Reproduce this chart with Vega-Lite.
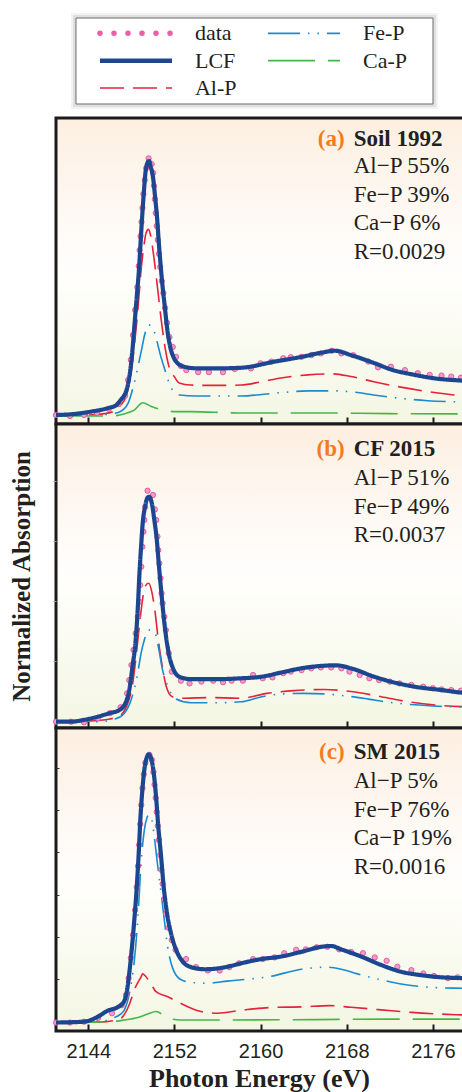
{
"$schema":"https://vega.github.io/schema/vega-lite/v6.json",
"padding":{"left":7,"top":13,"right":0,"bottom":5},
"bounds":"flush",
"spacing":0,
"config":{
 "font":"Liberation Serif",
 "view":{"stroke":"#1b1b1b","strokeWidth":3},
 "axis":{"grid":false,"domain":false}
},
"datasets":{"curves":[
{"p":"a","s":"LCF","e":2141.0,"v":0.00},{"p":"a","s":"LCF","e":2142.7,"v":0.03},{"p":"a","s":"LCF","e":2144.25,"v":0.10},{"p":"a","s":"LCF","e":2145.8,"v":0.20},{"p":"a","s":"LCF","e":2146.6,"v":0.29},{"p":"a","s":"LCF","e":2147.0,"v":0.44},{"p":"a","s":"LCF","e":2147.5,"v":0.69},{"p":"a","s":"LCF","e":2147.7,"v":0.93},{"p":"a","s":"LCF","e":2147.9,"v":1.32},{"p":"a","s":"LCF","e":2148.1,"v":1.91},{"p":"a","s":"LCF","e":2148.3,"v":2.70},{"p":"a","s":"LCF","e":2148.5,"v":3.48},{"p":"a","s":"LCF","e":2148.7,"v":4.26},{"p":"a","s":"LCF","e":2148.85,"v":5.05},{"p":"a","s":"LCF","e":2149.0,"v":5.83},{"p":"a","s":"LCF","e":2149.15,"v":6.52},{"p":"a","s":"LCF","e":2149.3,"v":7.11},{"p":"a","s":"LCF","e":2149.5,"v":7.42},{"p":"a","s":"LCF","e":2149.65,"v":7.47},{"p":"a","s":"LCF","e":2149.8,"v":7.30},{"p":"a","s":"LCF","e":2150.0,"v":7.01},{"p":"a","s":"LCF","e":2150.2,"v":6.42},{"p":"a","s":"LCF","e":2150.4,"v":5.74},{"p":"a","s":"LCF","e":2150.55,"v":5.05},{"p":"a","s":"LCF","e":2150.7,"v":4.46},{"p":"a","s":"LCF","e":2150.9,"v":3.77},{"p":"a","s":"LCF","e":2151.1,"v":3.19},{"p":"a","s":"LCF","e":2151.3,"v":2.60},{"p":"a","s":"LCF","e":2151.6,"v":2.01},{"p":"a","s":"LCF","e":2151.9,"v":1.71},{"p":"a","s":"LCF","e":2152.3,"v":1.52},{"p":"a","s":"LCF","e":2152.9,"v":1.42},{"p":"a","s":"LCF","e":2154.2,"v":1.37},{"p":"a","s":"LCF","e":2155.7,"v":1.37},{"p":"a","s":"LCF","e":2158.2,"v":1.39},{"p":"a","s":"LCF","e":2161.3,"v":1.57},{"p":"a","s":"LCF","e":2163.8,"v":1.71},{"p":"a","s":"LCF","e":2165.6,"v":1.83},{"p":"a","s":"LCF","e":2166.9,"v":1.89},{"p":"a","s":"LCF","e":2168.4,"v":1.76},{"p":"a","s":"LCF","e":2170.6,"v":1.52},{"p":"a","s":"LCF","e":2172.1,"v":1.34},{"p":"a","s":"LCF","e":2174.3,"v":1.18},{"p":"a","s":"LCF","e":2176.1,"v":1.08},{"p":"a","s":"LCF","e":2178.8,"v":1.01},{"p":"a","s":"LCF","e":2180.0,"v":0.99},
{"p":"a","s":"data","e":2141.0,"v":0.00},{"p":"a","s":"data","e":2142.3,"v":-0.03},{"p":"a","s":"data","e":2143.6,"v":0.00},{"p":"a","s":"data","e":2144.8,"v":0.06},{"p":"a","s":"data","e":2145.9,"v":0.18},{"p":"a","s":"data","e":2146.8,"v":0.32},{"p":"a","s":"data","e":2147.4,"v":0.56},{"p":"a","s":"data","e":2147.7,"v":1.03},{"p":"a","s":"data","e":2147.95,"v":1.62},{"p":"a","s":"data","e":2148.15,"v":2.35},{"p":"a","s":"data","e":2148.35,"v":3.09},{"p":"a","s":"data","e":2148.55,"v":3.76},{"p":"a","s":"data","e":2148.68,"v":4.38},{"p":"a","s":"data","e":2148.76,"v":4.85},{"p":"a","s":"data","e":2148.85,"v":5.26},{"p":"a","s":"data","e":2148.94,"v":5.68},{"p":"a","s":"data","e":2149.03,"v":6.09},{"p":"a","s":"data","e":2149.12,"v":6.50},{"p":"a","s":"data","e":2149.24,"v":6.91},{"p":"a","s":"data","e":2149.38,"v":7.26},{"p":"a","s":"data","e":2149.6,"v":7.55},{"p":"a","s":"data","e":2149.88,"v":7.38},{"p":"a","s":"data","e":2150.02,"v":7.12},{"p":"a","s":"data","e":2150.1,"v":6.74},{"p":"a","s":"data","e":2150.18,"v":6.35},{"p":"a","s":"data","e":2150.26,"v":5.94},{"p":"a","s":"data","e":2150.35,"v":5.56},{"p":"a","s":"data","e":2150.45,"v":5.15},{"p":"a","s":"data","e":2150.56,"v":4.74},{"p":"a","s":"data","e":2150.68,"v":4.35},{"p":"a","s":"data","e":2150.82,"v":3.94},{"p":"a","s":"data","e":2150.97,"v":3.59},{"p":"a","s":"data","e":2151.13,"v":3.15},{"p":"a","s":"data","e":2151.31,"v":2.71},{"p":"a","s":"data","e":2151.53,"v":2.29},{"p":"a","s":"data","e":2151.84,"v":2.00},{"p":"a","s":"data","e":2152.15,"v":1.71},{"p":"a","s":"data","e":2152.6,"v":1.44},{"p":"a","s":"data","e":2153.1,"v":1.32},{"p":"a","s":"data","e":2154.2,"v":1.26},{"p":"a","s":"data","e":2155.2,"v":1.26},{"p":"a","s":"data","e":2156.5,"v":1.26},{"p":"a","s":"data","e":2157.6,"v":1.35},{"p":"a","s":"data","e":2159.1,"v":1.37},{"p":"a","s":"data","e":2160.0,"v":1.52},{"p":"a","s":"data","e":2161.0,"v":1.57},{"p":"a","s":"data","e":2162.1,"v":1.67},{"p":"a","s":"data","e":2162.8,"v":1.70},{"p":"a","s":"data","e":2163.8,"v":1.71},{"p":"a","s":"data","e":2164.7,"v":1.76},{"p":"a","s":"data","e":2165.6,"v":1.81},{"p":"a","s":"data","e":2166.6,"v":1.89},{"p":"a","s":"data","e":2167.5,"v":1.81},{"p":"a","s":"data","e":2168.6,"v":1.76},{"p":"a","s":"data","e":2170.0,"v":1.57},{"p":"a","s":"data","e":2170.9,"v":1.40},{"p":"a","s":"data","e":2172.1,"v":1.42},{"p":"a","s":"data","e":2173.4,"v":1.32},{"p":"a","s":"data","e":2174.6,"v":1.23},{"p":"a","s":"data","e":2175.7,"v":1.18},{"p":"a","s":"data","e":2176.8,"v":1.16},{"p":"a","s":"data","e":2177.7,"v":1.13},{"p":"a","s":"data","e":2178.6,"v":1.10},{"p":"a","s":"data","e":2179.6,"v":1.07},
{"p":"a","s":"Al-P","e":2141.0,"v":-0.01},{"p":"a","s":"Al-P","e":2144.0,"v":0.00},{"p":"a","s":"Al-P","e":2145.5,"v":0.04},{"p":"a","s":"Al-P","e":2146.3,"v":0.10},{"p":"a","s":"Al-P","e":2147.0,"v":0.29},{"p":"a","s":"Al-P","e":2147.5,"v":0.54},{"p":"a","s":"Al-P","e":2147.97,"v":1.24},{"p":"a","s":"Al-P","e":2148.3,"v":2.12},{"p":"a","s":"Al-P","e":2148.6,"v":3.09},{"p":"a","s":"Al-P","e":2148.9,"v":4.26},{"p":"a","s":"Al-P","e":2149.2,"v":5.06},{"p":"a","s":"Al-P","e":2149.36,"v":5.35},{"p":"a","s":"Al-P","e":2149.58,"v":5.46},{"p":"a","s":"Al-P","e":2149.8,"v":5.26},{"p":"a","s":"Al-P","e":2150.0,"v":4.85},{"p":"a","s":"Al-P","e":2150.45,"v":3.68},{"p":"a","s":"Al-P","e":2150.75,"v":2.85},{"p":"a","s":"Al-P","e":2151.06,"v":2.12},{"p":"a","s":"Al-P","e":2151.5,"v":1.41},{"p":"a","s":"Al-P","e":2152.0,"v":1.12},{"p":"a","s":"Al-P","e":2152.45,"v":0.94},{"p":"a","s":"Al-P","e":2153.5,"v":0.88},{"p":"a","s":"Al-P","e":2155.5,"v":0.87},{"p":"a","s":"Al-P","e":2158.2,"v":0.88},{"p":"a","s":"Al-P","e":2160.1,"v":0.98},{"p":"a","s":"Al-P","e":2161.9,"v":1.09},{"p":"a","s":"Al-P","e":2164.4,"v":1.18},{"p":"a","s":"Al-P","e":2166.6,"v":1.21},{"p":"a","s":"Al-P","e":2168.4,"v":1.13},{"p":"a","s":"Al-P","e":2170.5,"v":0.98},{"p":"a","s":"Al-P","e":2173.0,"v":0.82},{"p":"a","s":"Al-P","e":2175.5,"v":0.69},{"p":"a","s":"Al-P","e":2178.0,"v":0.59},{"p":"a","s":"Al-P","e":2180.0,"v":0.56},
{"p":"a","s":"Fe-P","e":2141.0,"v":-0.01},{"p":"a","s":"Fe-P","e":2145.0,"v":0.00},{"p":"a","s":"Fe-P","e":2146.0,"v":0.03},{"p":"a","s":"Fe-P","e":2146.9,"v":0.09},{"p":"a","s":"Fe-P","e":2147.7,"v":0.35},{"p":"a","s":"Fe-P","e":2148.1,"v":0.74},{"p":"a","s":"Fe-P","e":2148.4,"v":1.12},{"p":"a","s":"Fe-P","e":2148.9,"v":1.85},{"p":"a","s":"Fe-P","e":2149.3,"v":2.44},{"p":"a","s":"Fe-P","e":2149.6,"v":2.65},{"p":"a","s":"Fe-P","e":2150.0,"v":2.56},{"p":"a","s":"Fe-P","e":2150.3,"v":2.26},{"p":"a","s":"Fe-P","e":2150.7,"v":1.76},{"p":"a","s":"Fe-P","e":2151.2,"v":1.24},{"p":"a","s":"Fe-P","e":2151.7,"v":0.79},{"p":"a","s":"Fe-P","e":2152.5,"v":0.59},{"p":"a","s":"Fe-P","e":2154.0,"v":0.56},{"p":"a","s":"Fe-P","e":2158.2,"v":0.56},{"p":"a","s":"Fe-P","e":2161.9,"v":0.66},{"p":"a","s":"Fe-P","e":2164.4,"v":0.71},{"p":"a","s":"Fe-P","e":2166.8,"v":0.71},{"p":"a","s":"Fe-P","e":2169.0,"v":0.66},{"p":"a","s":"Fe-P","e":2170.5,"v":0.59},{"p":"a","s":"Fe-P","e":2173.0,"v":0.49},{"p":"a","s":"Fe-P","e":2175.5,"v":0.42},{"p":"a","s":"Fe-P","e":2178.0,"v":0.39},{"p":"a","s":"Fe-P","e":2180.0,"v":0.38},
{"p":"a","s":"Ca-P","e":2141.0,"v":-0.03},{"p":"a","s":"Ca-P","e":2146.0,"v":-0.03},{"p":"a","s":"Ca-P","e":2147.3,"v":0.03},{"p":"a","s":"Ca-P","e":2148.3,"v":0.15},{"p":"a","s":"Ca-P","e":2149.05,"v":0.36},{"p":"a","s":"Ca-P","e":2149.8,"v":0.26},{"p":"a","s":"Ca-P","e":2150.9,"v":0.15},{"p":"a","s":"Ca-P","e":2152.0,"v":0.10},{"p":"a","s":"Ca-P","e":2153.5,"v":0.10},{"p":"a","s":"Ca-P","e":2158.0,"v":0.06},{"p":"a","s":"Ca-P","e":2165.0,"v":0.06},{"p":"a","s":"Ca-P","e":2172.0,"v":0.04},{"p":"a","s":"Ca-P","e":2180.0,"v":0.03},
{"p":"b","s":"LCF","e":2141.0,"v":0.00},{"p":"b","s":"LCF","e":2142.4,"v":0.00},{"p":"b","s":"LCF","e":2143.6,"v":0.06},{"p":"b","s":"LCF","e":2144.9,"v":0.17},{"p":"b","s":"LCF","e":2145.95,"v":0.28},{"p":"b","s":"LCF","e":2146.9,"v":0.39},{"p":"b","s":"LCF","e":2147.5,"v":0.66},{"p":"b","s":"LCF","e":2147.8,"v":1.05},{"p":"b","s":"LCF","e":2148.1,"v":1.82},{"p":"b","s":"LCF","e":2148.4,"v":2.71},{"p":"b","s":"LCF","e":2148.6,"v":3.81},{"p":"b","s":"LCF","e":2148.75,"v":4.92},{"p":"b","s":"LCF","e":2148.9,"v":5.80},{"p":"b","s":"LCF","e":2149.05,"v":6.58},{"p":"b","s":"LCF","e":2149.27,"v":7.13},{"p":"b","s":"LCF","e":2149.52,"v":7.44},{"p":"b","s":"LCF","e":2149.67,"v":7.46},{"p":"b","s":"LCF","e":2149.9,"v":7.24},{"p":"b","s":"LCF","e":2150.13,"v":6.69},{"p":"b","s":"LCF","e":2150.36,"v":6.03},{"p":"b","s":"LCF","e":2150.54,"v":5.25},{"p":"b","s":"LCF","e":2150.76,"v":4.37},{"p":"b","s":"LCF","e":2151.0,"v":3.48},{"p":"b","s":"LCF","e":2151.22,"v":2.82},{"p":"b","s":"LCF","e":2151.53,"v":2.16},{"p":"b","s":"LCF","e":2151.94,"v":1.71},{"p":"b","s":"LCF","e":2152.46,"v":1.49},{"p":"b","s":"LCF","e":2153.54,"v":1.41},{"p":"b","s":"LCF","e":2155.7,"v":1.41},{"p":"b","s":"LCF","e":2158.19,"v":1.44},{"p":"b","s":"LCF","e":2160.05,"v":1.49},{"p":"b","s":"LCF","e":2161.9,"v":1.63},{"p":"b","s":"LCF","e":2163.76,"v":1.77},{"p":"b","s":"LCF","e":2165.62,"v":1.85},{"p":"b","s":"LCF","e":2167.0,"v":1.87},{"p":"b","s":"LCF","e":2168.4,"v":1.77},{"p":"b","s":"LCF","e":2170.57,"v":1.49},{"p":"b","s":"LCF","e":2172.1,"v":1.33},{"p":"b","s":"LCF","e":2174.3,"v":1.16},{"p":"b","s":"LCF","e":2176.8,"v":1.05},{"p":"b","s":"LCF","e":2178.8,"v":0.96},{"p":"b","s":"LCF","e":2180.0,"v":0.94},
{"p":"b","s":"data","e":2141.0,"v":0.00},{"p":"b","s":"data","e":2142.4,"v":0.00},{"p":"b","s":"data","e":2143.6,"v":-0.02},{"p":"b","s":"data","e":2144.9,"v":0.11},{"p":"b","s":"data","e":2146.0,"v":0.28},{"p":"b","s":"data","e":2147.0,"v":0.48},{"p":"b","s":"data","e":2147.6,"v":0.94},{"p":"b","s":"data","e":2147.8,"v":1.38},{"p":"b","s":"data","e":2148.0,"v":1.88},{"p":"b","s":"data","e":2148.2,"v":2.38},{"p":"b","s":"data","e":2148.4,"v":2.93},{"p":"b","s":"data","e":2148.6,"v":3.48},{"p":"b","s":"data","e":2148.72,"v":3.98},{"p":"b","s":"data","e":2148.82,"v":4.53},{"p":"b","s":"data","e":2148.92,"v":5.14},{"p":"b","s":"data","e":2149.02,"v":5.80},{"p":"b","s":"data","e":2149.12,"v":6.30},{"p":"b","s":"data","e":2149.2,"v":6.69},{"p":"b","s":"data","e":2149.28,"v":7.12},{"p":"b","s":"data","e":2149.5,"v":7.66},{"p":"b","s":"data","e":2150.0,"v":7.52},{"p":"b","s":"data","e":2150.18,"v":7.04},{"p":"b","s":"data","e":2150.3,"v":6.69},{"p":"b","s":"data","e":2150.42,"v":6.14},{"p":"b","s":"data","e":2150.5,"v":5.69},{"p":"b","s":"data","e":2150.6,"v":5.25},{"p":"b","s":"data","e":2150.7,"v":4.76},{"p":"b","s":"data","e":2150.8,"v":4.26},{"p":"b","s":"data","e":2150.9,"v":3.93},{"p":"b","s":"data","e":2151.06,"v":3.48},{"p":"b","s":"data","e":2151.2,"v":3.04},{"p":"b","s":"data","e":2151.47,"v":2.27},{"p":"b","s":"data","e":2151.75,"v":1.66},{"p":"b","s":"data","e":2152.6,"v":1.36},{"p":"b","s":"data","e":2153.4,"v":1.27},{"p":"b","s":"data","e":2154.5,"v":1.33},{"p":"b","s":"data","e":2155.6,"v":1.36},{"p":"b","s":"data","e":2156.5,"v":1.31},{"p":"b","s":"data","e":2157.3,"v":1.36},{"p":"b","s":"data","e":2158.35,"v":1.36},{"p":"b","s":"data","e":2159.3,"v":1.55},{"p":"b","s":"data","e":2160.2,"v":1.44},{"p":"b","s":"data","e":2161.1,"v":1.47},{"p":"b","s":"data","e":2162.1,"v":1.61},{"p":"b","s":"data","e":2162.8,"v":1.66},{"p":"b","s":"data","e":2163.8,"v":1.71},{"p":"b","s":"data","e":2164.7,"v":1.77},{"p":"b","s":"data","e":2165.6,"v":1.80},{"p":"b","s":"data","e":2166.55,"v":1.80},{"p":"b","s":"data","e":2167.5,"v":1.77},{"p":"b","s":"data","e":2168.25,"v":1.66},{"p":"b","s":"data","e":2169.2,"v":1.55},{"p":"b","s":"data","e":2170.1,"v":1.44},{"p":"b","s":"data","e":2171.0,"v":1.38},{"p":"b","s":"data","e":2172.0,"v":1.33},{"p":"b","s":"data","e":2172.9,"v":1.27},{"p":"b","s":"data","e":2174.0,"v":1.22},{"p":"b","s":"data","e":2175.1,"v":1.16},{"p":"b","s":"data","e":2176.0,"v":1.11},{"p":"b","s":"data","e":2176.8,"v":1.07},{"p":"b","s":"data","e":2177.7,"v":1.05},{"p":"b","s":"data","e":2178.6,"v":1.03},{"p":"b","s":"data","e":2179.6,"v":1.00},
{"p":"b","s":"Al-P","e":2141.0,"v":0.00},{"p":"b","s":"Al-P","e":2144.0,"v":0.02},{"p":"b","s":"Al-P","e":2146.0,"v":0.09},{"p":"b","s":"Al-P","e":2147.0,"v":0.22},{"p":"b","s":"Al-P","e":2147.6,"v":0.55},{"p":"b","s":"Al-P","e":2148.1,"v":1.22},{"p":"b","s":"Al-P","e":2148.4,"v":2.05},{"p":"b","s":"Al-P","e":2148.75,"v":3.21},{"p":"b","s":"Al-P","e":2149.1,"v":4.20},{"p":"b","s":"Al-P","e":2149.35,"v":4.53},{"p":"b","s":"Al-P","e":2149.6,"v":4.59},{"p":"b","s":"Al-P","e":2149.9,"v":4.30},{"p":"b","s":"Al-P","e":2150.2,"v":3.64},{"p":"b","s":"Al-P","e":2150.5,"v":2.71},{"p":"b","s":"Al-P","e":2150.85,"v":1.88},{"p":"b","s":"Al-P","e":2151.2,"v":1.22},{"p":"b","s":"Al-P","e":2151.8,"v":0.83},{"p":"b","s":"Al-P","e":2152.8,"v":0.78},{"p":"b","s":"Al-P","e":2155.0,"v":0.80},{"p":"b","s":"Al-P","e":2158.2,"v":0.78},{"p":"b","s":"Al-P","e":2160.6,"v":0.94},{"p":"b","s":"Al-P","e":2163.1,"v":1.03},{"p":"b","s":"Al-P","e":2165.9,"v":1.07},{"p":"b","s":"Al-P","e":2168.4,"v":1.00},{"p":"b","s":"Al-P","e":2171.2,"v":0.83},{"p":"b","s":"Al-P","e":2173.7,"v":0.66},{"p":"b","s":"Al-P","e":2176.2,"v":0.55},{"p":"b","s":"Al-P","e":2178.8,"v":0.50},{"p":"b","s":"Al-P","e":2180.0,"v":0.49},
{"p":"b","s":"Fe-P","e":2141.0,"v":-0.01},{"p":"b","s":"Fe-P","e":2145.0,"v":0.00},{"p":"b","s":"Fe-P","e":2146.5,"v":0.09},{"p":"b","s":"Fe-P","e":2147.35,"v":0.28},{"p":"b","s":"Fe-P","e":2147.97,"v":0.72},{"p":"b","s":"Fe-P","e":2148.59,"v":1.61},{"p":"b","s":"Fe-P","e":2148.9,"v":2.27},{"p":"b","s":"Fe-P","e":2149.2,"v":2.71},{"p":"b","s":"Fe-P","e":2149.58,"v":3.04},{"p":"b","s":"Fe-P","e":2150.13,"v":2.99},{"p":"b","s":"Fe-P","e":2150.5,"v":2.49},{"p":"b","s":"Fe-P","e":2150.9,"v":1.71},{"p":"b","s":"Fe-P","e":2151.4,"v":1.16},{"p":"b","s":"Fe-P","e":2152.0,"v":0.78},{"p":"b","s":"Fe-P","e":2153.54,"v":0.63},{"p":"b","s":"Fe-P","e":2156.1,"v":0.63},{"p":"b","s":"Fe-P","e":2158.2,"v":0.66},{"p":"b","s":"Fe-P","e":2160.0,"v":0.82},{"p":"b","s":"Fe-P","e":2162.0,"v":0.92},{"p":"b","s":"Fe-P","e":2164.0,"v":0.94},{"p":"b","s":"Fe-P","e":2166.0,"v":0.92},{"p":"b","s":"Fe-P","e":2168.0,"v":0.85},{"p":"b","s":"Fe-P","e":2170.0,"v":0.75},{"p":"b","s":"Fe-P","e":2172.0,"v":0.64},{"p":"b","s":"Fe-P","e":2174.0,"v":0.57},{"p":"b","s":"Fe-P","e":2176.0,"v":0.52},{"p":"b","s":"Fe-P","e":2178.8,"v":0.49},{"p":"b","s":"Fe-P","e":2180.0,"v":0.48},
{"p":"c","s":"LCF","e":2141.0,"v":-0.02},{"p":"c","s":"LCF","e":2143.6,"v":0.00},{"p":"c","s":"LCF","e":2144.9,"v":0.12},{"p":"c","s":"LCF","e":2145.8,"v":0.26},{"p":"c","s":"LCF","e":2146.7,"v":0.34},{"p":"c","s":"LCF","e":2147.3,"v":0.47},{"p":"c","s":"LCF","e":2147.6,"v":0.75},{"p":"c","s":"LCF","e":2147.8,"v":1.14},{"p":"c","s":"LCF","e":2148.03,"v":1.70},{"p":"c","s":"LCF","e":2148.27,"v":2.40},{"p":"c","s":"LCF","e":2148.5,"v":3.19},{"p":"c","s":"LCF","e":2148.68,"v":3.98},{"p":"c","s":"LCF","e":2148.83,"v":4.77},{"p":"c","s":"LCF","e":2149.02,"v":5.48},{"p":"c","s":"LCF","e":2149.2,"v":5.95},{"p":"c","s":"LCF","e":2149.45,"v":6.26},{"p":"c","s":"LCF","e":2149.61,"v":6.32},{"p":"c","s":"LCF","e":2149.83,"v":6.23},{"p":"c","s":"LCF","e":2150.08,"v":5.87},{"p":"c","s":"LCF","e":2150.29,"v":5.32},{"p":"c","s":"LCF","e":2150.5,"v":4.61},{"p":"c","s":"LCF","e":2150.76,"v":3.90},{"p":"c","s":"LCF","e":2151.0,"v":3.19},{"p":"c","s":"LCF","e":2151.31,"v":2.56},{"p":"c","s":"LCF","e":2151.68,"v":2.09},{"p":"c","s":"LCF","e":2152.15,"v":1.70},{"p":"c","s":"LCF","e":2152.77,"v":1.42},{"p":"c","s":"LCF","e":2153.54,"v":1.29},{"p":"c","s":"LCF","e":2154.78,"v":1.24},{"p":"c","s":"LCF","e":2156.02,"v":1.26},{"p":"c","s":"LCF","e":2157.26,"v":1.32},{"p":"c","s":"LCF","e":2158.19,"v":1.38},{"p":"c","s":"LCF","e":2160.05,"v":1.48},{"p":"c","s":"LCF","e":2161.9,"v":1.54},{"p":"c","s":"LCF","e":2163.76,"v":1.65},{"p":"c","s":"LCF","e":2165.62,"v":1.77},{"p":"c","s":"LCF","e":2166.55,"v":1.79},{"p":"c","s":"LCF","e":2167.48,"v":1.71},{"p":"c","s":"LCF","e":2169.34,"v":1.54},{"p":"c","s":"LCF","e":2171.2,"v":1.34},{"p":"c","s":"LCF","e":2173.05,"v":1.18},{"p":"c","s":"LCF","e":2174.9,"v":1.10},{"p":"c","s":"LCF","e":2176.77,"v":1.05},{"p":"c","s":"LCF","e":2178.8,"v":1.03},{"p":"c","s":"LCF","e":2180.0,"v":1.02},
{"p":"c","s":"data","e":2141.0,"v":-0.02},{"p":"c","s":"data","e":2142.3,"v":-0.02},{"p":"c","s":"data","e":2143.6,"v":0.00},{"p":"c","s":"data","e":2144.9,"v":0.09},{"p":"c","s":"data","e":2146.2,"v":0.20},{"p":"c","s":"data","e":2147.1,"v":0.39},{"p":"c","s":"data","e":2147.5,"v":0.63},{"p":"c","s":"data","e":2147.75,"v":1.03},{"p":"c","s":"data","e":2147.95,"v":1.51},{"p":"c","s":"data","e":2148.15,"v":2.05},{"p":"c","s":"data","e":2148.35,"v":2.64},{"p":"c","s":"data","e":2148.5,"v":3.18},{"p":"c","s":"data","e":2148.62,"v":3.68},{"p":"c","s":"data","e":2148.72,"v":4.18},{"p":"c","s":"data","e":2148.82,"v":4.67},{"p":"c","s":"data","e":2148.92,"v":5.12},{"p":"c","s":"data","e":2149.03,"v":5.52},{"p":"c","s":"data","e":2149.15,"v":5.85},{"p":"c","s":"data","e":2149.3,"v":6.12},{"p":"c","s":"data","e":2149.67,"v":6.31},{"p":"c","s":"data","e":2149.9,"v":6.19},{"p":"c","s":"data","e":2150.05,"v":5.90},{"p":"c","s":"data","e":2150.15,"v":5.60},{"p":"c","s":"data","e":2150.25,"v":5.29},{"p":"c","s":"data","e":2150.35,"v":4.96},{"p":"c","s":"data","e":2150.45,"v":4.63},{"p":"c","s":"data","e":2150.55,"v":4.30},{"p":"c","s":"data","e":2150.66,"v":3.94},{"p":"c","s":"data","e":2150.78,"v":3.59},{"p":"c","s":"data","e":2150.9,"v":3.26},{"p":"c","s":"data","e":2151.05,"v":2.90},{"p":"c","s":"data","e":2151.22,"v":2.55},{"p":"c","s":"data","e":2151.45,"v":2.22},{"p":"c","s":"data","e":2151.75,"v":1.93},{"p":"c","s":"data","e":2152.1,"v":1.70},{"p":"c","s":"data","e":2153.08,"v":1.48},{"p":"c","s":"data","e":2154.0,"v":1.29},{"p":"c","s":"data","e":2155.1,"v":1.21},{"p":"c","s":"data","e":2156.2,"v":1.21},{"p":"c","s":"data","e":2157.1,"v":1.29},{"p":"c","s":"data","e":2158.0,"v":1.38},{"p":"c","s":"data","e":2159.3,"v":1.48},{"p":"c","s":"data","e":2160.2,"v":1.48},{"p":"c","s":"data","e":2161.3,"v":1.52},{"p":"c","s":"data","e":2162.2,"v":1.62},{"p":"c","s":"data","e":2163.3,"v":1.70},{"p":"c","s":"data","e":2164.2,"v":1.71},{"p":"c","s":"data","e":2165.2,"v":1.76},{"p":"c","s":"data","e":2166.2,"v":1.77},{"p":"c","s":"data","e":2167.3,"v":1.71},{"p":"c","s":"data","e":2168.4,"v":1.65},{"p":"c","s":"data","e":2169.5,"v":1.62},{"p":"c","s":"data","e":2170.6,"v":1.52},{"p":"c","s":"data","e":2171.7,"v":1.44},{"p":"c","s":"data","e":2172.7,"v":1.30},{"p":"c","s":"data","e":2174.0,"v":1.22},{"p":"c","s":"data","e":2175.1,"v":1.14},{"p":"c","s":"data","e":2176.1,"v":1.08},{"p":"c","s":"data","e":2177.4,"v":1.03},{"p":"c","s":"data","e":2178.3,"v":1.05},{"p":"c","s":"data","e":2179.3,"v":1.03},
{"p":"c","s":"Fe-P","e":2141.0,"v":-0.02},{"p":"c","s":"Fe-P","e":2145.0,"v":0.00},{"p":"c","s":"Fe-P","e":2146.3,"v":0.09},{"p":"c","s":"Fe-P","e":2147.0,"v":0.18},{"p":"c","s":"Fe-P","e":2147.35,"v":0.28},{"p":"c","s":"Fe-P","e":2147.81,"v":0.67},{"p":"c","s":"Fe-P","e":2148.28,"v":1.46},{"p":"c","s":"Fe-P","e":2148.59,"v":2.40},{"p":"c","s":"Fe-P","e":2148.9,"v":3.74},{"p":"c","s":"Fe-P","e":2149.2,"v":4.53},{"p":"c","s":"Fe-P","e":2149.45,"v":4.82},{"p":"c","s":"Fe-P","e":2149.61,"v":4.89},{"p":"c","s":"Fe-P","e":2149.85,"v":4.82},{"p":"c","s":"Fe-P","e":2150.13,"v":4.37},{"p":"c","s":"Fe-P","e":2150.38,"v":3.82},{"p":"c","s":"Fe-P","e":2150.69,"v":3.19},{"p":"c","s":"Fe-P","e":2151.06,"v":2.40},{"p":"c","s":"Fe-P","e":2151.37,"v":1.77},{"p":"c","s":"Fe-P","e":2151.84,"v":1.26},{"p":"c","s":"Fe-P","e":2152.62,"v":0.99},{"p":"c","s":"Fe-P","e":2153.85,"v":0.92},{"p":"c","s":"Fe-P","e":2155.1,"v":0.91},{"p":"c","s":"Fe-P","e":2156.9,"v":0.96},{"p":"c","s":"Fe-P","e":2158.2,"v":0.99},{"p":"c","s":"Fe-P","e":2160.7,"v":1.06},{"p":"c","s":"Fe-P","e":2163.8,"v":1.24},{"p":"c","s":"Fe-P","e":2166.2,"v":1.29},{"p":"c","s":"Fe-P","e":2167.5,"v":1.24},{"p":"c","s":"Fe-P","e":2169.0,"v":1.13},{"p":"c","s":"Fe-P","e":2171.2,"v":0.99},{"p":"c","s":"Fe-P","e":2173.05,"v":0.89},{"p":"c","s":"Fe-P","e":2174.9,"v":0.83},{"p":"c","s":"Fe-P","e":2176.8,"v":0.80},{"p":"c","s":"Fe-P","e":2178.8,"v":0.79},{"p":"c","s":"Fe-P","e":2180.0,"v":0.78},
{"p":"c","s":"Al-P","e":2141.0,"v":-0.02},{"p":"c","s":"Al-P","e":2145.0,"v":-0.01},{"p":"c","s":"Al-P","e":2146.8,"v":0.05},{"p":"c","s":"Al-P","e":2147.2,"v":0.12},{"p":"c","s":"Al-P","e":2147.8,"v":0.40},{"p":"c","s":"Al-P","e":2148.27,"v":0.75},{"p":"c","s":"Al-P","e":2148.9,"v":1.06},{"p":"c","s":"Al-P","e":2149.05,"v":1.13},{"p":"c","s":"Al-P","e":2149.3,"v":1.08},{"p":"c","s":"Al-P","e":2149.7,"v":0.94},{"p":"c","s":"Al-P","e":2150.29,"v":0.71},{"p":"c","s":"Al-P","e":2151.37,"v":0.59},{"p":"c","s":"Al-P","e":2152.61,"v":0.43},{"p":"c","s":"Al-P","e":2154.47,"v":0.24},{"p":"c","s":"Al-P","e":2156.02,"v":0.20},{"p":"c","s":"Al-P","e":2158.2,"v":0.27},{"p":"c","s":"Al-P","e":2161.3,"v":0.34},{"p":"c","s":"Al-P","e":2163.8,"v":0.35},{"p":"c","s":"Al-P","e":2166.4,"v":0.38},{"p":"c","s":"Al-P","e":2168.4,"v":0.34},{"p":"c","s":"Al-P","e":2171.2,"v":0.28},{"p":"c","s":"Al-P","e":2174.0,"v":0.22},{"p":"c","s":"Al-P","e":2176.7,"v":0.18},{"p":"c","s":"Al-P","e":2178.8,"v":0.16},{"p":"c","s":"Al-P","e":2180.0,"v":0.15},
{"p":"c","s":"Ca-P","e":2141.0,"v":-0.02},{"p":"c","s":"Ca-P","e":2146.0,"v":0.00},{"p":"c","s":"Ca-P","e":2147.35,"v":0.04},{"p":"c","s":"Ca-P","e":2148.6,"v":0.10},{"p":"c","s":"Ca-P","e":2149.52,"v":0.18},{"p":"c","s":"Ca-P","e":2150.29,"v":0.24},{"p":"c","s":"Ca-P","e":2151.37,"v":0.09},{"p":"c","s":"Ca-P","e":2152.6,"v":0.04},{"p":"c","s":"Ca-P","e":2156.0,"v":0.04},{"p":"c","s":"Ca-P","e":2165.0,"v":0.05},{"p":"c","s":"Ca-P","e":2172.0,"v":0.06},{"p":"c","s":"Ca-P","e":2180.0,"v":0.06}
],
"keys":[{"k":"data","c":0,"r":0},{"k":"LCF","c":0,"r":1},{"k":"Al-P","c":0,"r":2},{"k":"Fe-P","c":1,"r":0},{"k":"Ca-P","c":1,"r":1}]
},
"vconcat":[
{"width":420,"height":100,
 "view":{"stroke":null,"fill":null},
 "layer":[
  {"data":{"values":[{}]},"mark":{"type":"rect","fill":null,"stroke":"#000000","strokeOpacity":0.05,"strokeWidth":10},
   "encoding":{"x":{"datum":-0.357,"type":"quantitative","scale":{"domain":[-0.476,2.024],"nice":false,"zero":false},"axis":null},"x2":{"datum":1.768},"y":{"datum":-0.559,"type":"quantitative","scale":{"domain":[-0.559,3.097],"nice":false,"zero":false,"reverse":true},"axis":null},"y2":{"datum":2.585}}},
  {"data":{"values":[{}]},"mark":{"type":"rect","fill":null,"stroke":"#000000","strokeOpacity":0.08,"strokeWidth":6},
   "encoding":{"x":{"datum":-0.357,"type":"quantitative","axis":null},"x2":{"datum":1.768},"y":{"datum":-0.559,"type":"quantitative","axis":null},"y2":{"datum":2.585}}},
  {"data":{"values":[{}]},"mark":{"type":"rect","fill":"#ffffff","stroke":"#6d6d6d","strokeWidth":1},
   "encoding":{"x":{"datum":-0.357,"type":"quantitative","axis":null},"x2":{"datum":1.768},"y":{"datum":-0.559,"type":"quantitative","axis":null},"y2":{"datum":2.585}}},
  {"data":{"name":"keys"},"transform":[{"filter":"datum.k === 'data'"}],"mark":{"type":"point","shape":"M-1,0L1,0","size":5184,"filled":false,"strokeWidth":5.5,"strokeCap":"round","opacity":1},
   "encoding":{"x":{"field":"c","type":"quantitative","axis":null},"y":{"field":"r","type":"quantitative","axis":null},
    "color":{"field":"k","type":"nominal","scale":{"domain":["data","Fe-P","LCF","Ca-P","Al-P"],"range":["#ec5fa7","#1b8ad0","#1d4690","#45b649","#e4223b"]},"legend":null},
    "strokeDash":{"field":"k","type":"nominal","scale":{"domain":["data","Fe-P","LCF","Ca-P","Al-P"],"range":[[0.01,14],[32,8,1.5,8,1.5,8],[1,0],[47,13],[24,9]]},"legend":null}}},
  {"data":{"name":"keys"},"transform":[{"filter":"datum.k === 'LCF'"}],"mark":{"type":"point","shape":"M-1,0L1,0","size":5184,"filled":false,"strokeWidth":4.5,"opacity":1},
   "encoding":{"x":{"field":"c","type":"quantitative","axis":null},"y":{"field":"r","type":"quantitative","axis":null},"color":{"field":"k","type":"nominal","legend":null},"strokeDash":{"field":"k","type":"nominal","legend":null}}},
  {"data":{"name":"keys"},"transform":[{"filter":"datum.k !== 'data' && datum.k !== 'LCF'"}],"mark":{"type":"point","shape":"M-1,0L1,0","size":5184,"filled":false,"strokeWidth":1.7,"opacity":1},
   "encoding":{"x":{"field":"c","type":"quantitative","axis":null},"y":{"field":"r","type":"quantitative","axis":null},"color":{"field":"k","type":"nominal","legend":null},"strokeDash":{"field":"k","type":"nominal","legend":null}}},
  {"data":{"name":"keys"},"mark":{"type":"text","align":"left","baseline":"middle","dx":59,"font":"Liberation Serif","fontSize":22,"color":"#231f20"},
   "encoding":{"x":{"field":"c","type":"quantitative","axis":null},"y":{"field":"r","type":"quantitative","axis":null},"text":{"field":"k"}}}
 ]},
{
 "width":420,"height":306,
 "view":{"stroke":"#1b1b1b","strokeWidth":3,"fill":{"gradient":"linear","x1":0,"y1":0,"x2":0,"y2":1,"stops":[{"offset":0,"color":"#fcefe1"},{"offset":0.45,"color":"#fffdfb"},{"offset":0.55,"color":"#fefefa"},{"offset":1,"color":"#f4f6e3"}]}},
 "layer":[
  {"data":{"name":"curves"},"transform":[{"filter":"datum.p === 'a' && (datum.s === 'Al-P' || datum.s === 'Fe-P' || datum.s === 'Ca-P')"}],
   "mark":{"type":"line","strokeWidth":1.6,"interpolate":"monotone"},
   "encoding":{
    "x":{"field":"e","type":"quantitative","scale":{"domain":[2141,2180],"nice":false,"zero":false},"axis":{"values":[2144,2152,2160,2168,2176],"labels":false,"title":null,"ticks":true,"tickSize":-7,"tickWidth":2,"tickColor":"#1b1b1b"}},
    "y":{"field":"v","type":"quantitative","scale":{"domain":[-0.265,8.735],"nice":false,"zero":false},"axis":{"ticks":false,"labels":false,"title":null}},
    "color":{"field":"s","type":"nominal","legend":null},"strokeDash":{"field":"s","type":"nominal","legend":null}}},
  {"data":{"name":"curves"},"transform":[{"filter":"datum.p === 'a' && datum.s === 'data'"}],
   "mark":{"type":"circle","size":28,"fill":"#f29ac8","stroke":"#e5519d","strokeWidth":0.9,"opacity":1},
   "encoding":{"x":{"field":"e","type":"quantitative"},"y":{"field":"v","type":"quantitative"}}},
  {"data":{"name":"curves"},"transform":[{"filter":"datum.p === 'a' && datum.s === 'LCF'"}],
   "mark":{"type":"line","strokeWidth":4.2,"interpolate":"monotone"},
   "encoding":{"x":{"field":"e","type":"quantitative"},"y":{"field":"v","type":"quantitative"},"color":{"field":"s","type":"nominal","legend":null},"strokeDash":{"field":"s","type":"nominal","legend":null}}},
  {"data":{"values":[{"t":"(a)"}]},"mark":{"type":"text","align":"right","baseline":"alphabetic","font":"Liberation Serif","fontSize":23,"fontWeight":"bold","color":"#f47b20"},"encoding":{"x":{"datum":2167.8,"type":"quantitative"},"y":{"datum":7.91,"type":"quantitative"},"text":{"field":"t"}}},
  {"data":{"values":[{"t":"Soil 1992"}]},"mark":{"type":"text","align":"left","baseline":"alphabetic","font":"Liberation Serif","fontSize":23,"fontWeight":"bold","color":"#231f20"},"encoding":{"x":{"datum":2168.64,"type":"quantitative"},"y":{"datum":7.91,"type":"quantitative"},"text":{"field":"t"}}},
  {"data":{"values":[{"t":"Al−P 55%\nFe−P 39%\nCa−P 6%\nR=0.0029"}]},"mark":{"type":"text","align":"left","baseline":"alphabetic","font":"Liberation Serif","fontSize":23,"color":"#231f20","lineBreak":"\n","lineHeight":28.5},"encoding":{"x":{"datum":2168.64,"type":"quantitative"},"y":{"datum":7.11,"type":"quantitative"},"text":{"field":"t"}}}
 ]
},
{
 "width":420,"height":304,
 "view":{"stroke":"#1b1b1b","strokeWidth":3,"fill":{"gradient":"linear","x1":0,"y1":0,"x2":0,"y2":1,"stops":[{"offset":0,"color":"#fcefe1"},{"offset":0.45,"color":"#fffdfb"},{"offset":0.55,"color":"#fefefa"},{"offset":1,"color":"#f4f6e3"}]}},
 "layer":[
  {"data":{"name":"curves"},"transform":[{"filter":"datum.p === 'b' && (datum.s === 'Al-P' || datum.s === 'Fe-P' || datum.s === 'Ca-P')"}],
   "mark":{"type":"line","strokeWidth":1.6,"interpolate":"monotone"},
   "encoding":{
    "x":{"field":"e","type":"quantitative","scale":{"domain":[2141,2180],"nice":false,"zero":false},"axis":{"values":[2144,2152,2160,2168,2176],"labels":false,"title":null,"ticks":true,"tickSize":-7,"tickWidth":2,"tickColor":"#1b1b1b"}},
    "y":{"field":"v","type":"quantitative","scale":{"domain":[-0.209,9.874],"nice":false,"zero":false},"axis":{"values":[2,4,6,8],"ticks":true,"tickSize":3,"tickColor":"#9a9a9a","tickWidth":1,"labels":false,"title":"Normalized Absorption","titleFont":"Liberation Serif","titleFontSize":25,"titleFontWeight":"bold","titleColor":"#231f20","titlePadding":18}},
    "color":{"field":"s","type":"nominal","legend":null},"strokeDash":{"field":"s","type":"nominal","legend":null}}},
  {"data":{"name":"curves"},"transform":[{"filter":"datum.p === 'b' && datum.s === 'data'"}],
   "mark":{"type":"circle","size":28,"fill":"#f29ac8","stroke":"#e5519d","strokeWidth":0.9,"opacity":1},
   "encoding":{"x":{"field":"e","type":"quantitative"},"y":{"field":"v","type":"quantitative"}}},
  {"data":{"name":"curves"},"transform":[{"filter":"datum.p === 'b' && datum.s === 'LCF'"}],
   "mark":{"type":"line","strokeWidth":4.2,"interpolate":"monotone"},
   "encoding":{"x":{"field":"e","type":"quantitative"},"y":{"field":"v","type":"quantitative"},"color":{"field":"s","type":"nominal","legend":null},"strokeDash":{"field":"s","type":"nominal","legend":null}}},
  {"data":{"values":[{"t":"(b)"}]},"mark":{"type":"text","align":"right","baseline":"alphabetic","font":"Liberation Serif","fontSize":23,"fontWeight":"bold","color":"#f47b20"},"encoding":{"x":{"datum":2167.8,"type":"quantitative"},"y":{"datum":8.81,"type":"quantitative"},"text":{"field":"t"}}},
  {"data":{"values":[{"t":"CF 2015"}]},"mark":{"type":"text","align":"left","baseline":"alphabetic","font":"Liberation Serif","fontSize":23,"fontWeight":"bold","color":"#231f20"},"encoding":{"x":{"datum":2168.64,"type":"quantitative"},"y":{"datum":8.81,"type":"quantitative"},"text":{"field":"t"}}},
  {"data":{"values":[{"t":"Al−P 51%\nFe−P 49%\nR=0.0037"}]},"mark":{"type":"text","align":"left","baseline":"alphabetic","font":"Liberation Serif","fontSize":23,"color":"#231f20","lineBreak":"\n","lineHeight":28.5},"encoding":{"x":{"datum":2168.64,"type":"quantitative"},"y":{"datum":7.85,"type":"quantitative"},"text":{"field":"t"}}}
 ]
},
{
 "width":420,"height":303,
 "view":{"stroke":"#1b1b1b","strokeWidth":3,"fill":{"gradient":"linear","x1":0,"y1":0,"x2":0,"y2":1,"stops":[{"offset":0,"color":"#fcefe1"},{"offset":0.45,"color":"#fffdfb"},{"offset":0.55,"color":"#fefefa"},{"offset":1,"color":"#f4f6e3"}]}},
 "layer":[
  {"data":{"name":"curves"},"transform":[{"filter":"datum.p === 'c' && (datum.s === 'Al-P' || datum.s === 'Fe-P' || datum.s === 'Ca-P')"}],
   "mark":{"type":"line","strokeWidth":1.6,"interpolate":"monotone"},
   "encoding":{
    "x":{"field":"e","type":"quantitative","scale":{"domain":[2141,2180],"nice":false,"zero":false},"axis":{"values":[2144,2152,2160,2168,2176],"format":"d","labels":true,"labelFont":"Liberation Sans","labelFontSize":20,"labelColor":"#231f20","labelPadding":17,"title":"Photon Energy (eV)","titleFont":"Liberation Serif","titleFontSize":26,"titleFontWeight":"bold","titleColor":"#231f20","titleX":203,"titleY":55,"titleBaseline":"alphabetic","ticks":true,"tickSize":-7,"tickWidth":2,"tickColor":"#1b1b1b"}},
    "y":{"field":"v","type":"quantitative","scale":{"domain":[-0.22,6.943],"nice":false,"zero":false},"axis":{"values":[1,2,3,4,5,6],"ticks":true,"tickSize":-3,"tickColor":"#333333","tickWidth":1,"labels":false,"title":null}},
    "color":{"field":"s","type":"nominal","legend":null},"strokeDash":{"field":"s","type":"nominal","legend":null}}},
  {"data":{"name":"curves"},"transform":[{"filter":"datum.p === 'c' && datum.s === 'data'"}],
   "mark":{"type":"circle","size":28,"fill":"#f29ac8","stroke":"#e5519d","strokeWidth":0.9,"opacity":1},
   "encoding":{"x":{"field":"e","type":"quantitative"},"y":{"field":"v","type":"quantitative"}}},
  {"data":{"name":"curves"},"transform":[{"filter":"datum.p === 'c' && datum.s === 'LCF'"}],
   "mark":{"type":"line","strokeWidth":4.2,"interpolate":"monotone"},
   "encoding":{"x":{"field":"e","type":"quantitative"},"y":{"field":"v","type":"quantitative"},"color":{"field":"s","type":"nominal","legend":null},"strokeDash":{"field":"s","type":"nominal","legend":null}}},
  {"data":{"values":[{"t":"(c)"}]},"mark":{"type":"text","align":"right","baseline":"alphabetic","font":"Liberation Serif","fontSize":23,"fontWeight":"bold","color":"#f47b20"},"encoding":{"x":{"datum":2167.8,"type":"quantitative"},"y":{"datum":6.20,"type":"quantitative"},"text":{"field":"t"}}},
  {"data":{"values":[{"t":"SM 2015"}]},"mark":{"type":"text","align":"left","baseline":"alphabetic","font":"Liberation Serif","fontSize":23,"fontWeight":"bold","color":"#231f20"},"encoding":{"x":{"datum":2168.64,"type":"quantitative"},"y":{"datum":6.20,"type":"quantitative"},"text":{"field":"t"}}},
  {"data":{"values":[{"t":"Al−P 5%\nFe−P 76%\nCa−P 19%\nR=0.0016"}]},"mark":{"type":"text","align":"left","baseline":"alphabetic","font":"Liberation Serif","fontSize":23,"color":"#231f20","lineBreak":"\n","lineHeight":28.5},"encoding":{"x":{"datum":2168.64,"type":"quantitative"},"y":{"datum":5.52,"type":"quantitative"},"text":{"field":"t"}}}
 ]
}
]
}
